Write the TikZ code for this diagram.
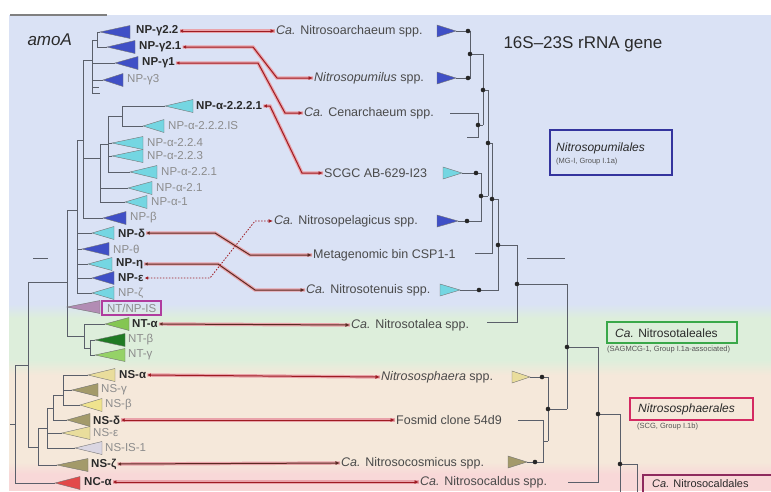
\documentclass[tikz,border=0pt]{standalone}
\usepackage{fontspec}
\setmainfont{Liberation Sans}
\usepackage{xcolor}
\definecolor{bandBlue}{HTML}{DAE2F5}
\definecolor{bandGreen}{HTML}{DDEEDB}
\definecolor{bandSand}{HTML}{F5E8DA}
\definecolor{bandPink}{HTML}{F8D8D8}
\definecolor{darkText}{HTML}{2A2A2A}
\definecolor{dimText}{HTML}{8C8C8C}
\definecolor{treeGray}{HTML}{5A5F6A}
\definecolor{linkRed}{HTML}{9E1B22}
\definecolor{linkPink}{HTML}{E9A3AA}
\definecolor{linkBrown}{HTML}{5C2A22}
\definecolor{npBlue}{HTML}{3F4FC6}
\definecolor{npCyan}{HTML}{74D6E2}
\definecolor{ntnpMauve}{HTML}{B28CB4}
\definecolor{ntGreen}{HTML}{84C652}
\definecolor{ntDark}{HTML}{1F7A24}
\definecolor{ntLight}{HTML}{95D267}
\definecolor{nsSand}{HTML}{E9DD9C}
\definecolor{nsOlive}{HTML}{A39A6A}
\definecolor{nsYellow}{HTML}{EFE38E}
\definecolor{nsisGray}{HTML}{DAD6E2}
\definecolor{ncRed}{HTML}{E2494A}
\definecolor{boxBlue}{HTML}{34349E}
\definecolor{boxGreen}{HTML}{3AA84A}
\definecolor{boxRed}{HTML}{D42A62}
\definecolor{boxPlum}{HTML}{8E2A5E}
\definecolor{boxMauve}{HTML}{B03C9E}
\usepackage{tikz}
\usetikzlibrary{arrows.meta}
\tikzset{
    % Leaf label of the amoA tree
    lab/.style={
        font=\fontsize{11.5}{13}\selectfont\bfseries,
        text=darkText,
        anchor=west,
        inner sep=1pt,
    },
    % Greyed leaf label
    labdim/.style={
        lab,
        font=\fontsize{11.5}{13}\selectfont,
        text=dimText,
    },
    % Leaf label of the rRNA tree
    tiplabel/.style={
        font=\fontsize{12.5}{14}\selectfont,
        text=darkText!85,
        anchor=west,
        inner sep=1pt,
    },
    % Collapsed clade
    clade/.style={
        draw=black!55,
        line width=0.4pt,
    },
    % Tree branches
    branch/.style={
        draw=treeGray,
        line width=0.8pt,
    },
    treedot/.style={
        fill=black!85,
    },
    % Red two-headed link
    linkarrow/.style={
        {Latex[length=3.5pt,width=3.5pt]}-{Latex[length=4.5pt,width=4pt]},
        draw=linkRed,
        line width=1pt,
        preaction={draw=linkPink, line width=3.4pt, arrows=-},
    },
    linkdark/.style={
        linkarrow,
        draw=linkBrown,
    },
    % Dotted link
    linkdotted/.style={
        {Latex[length=3.5pt,width=3.5pt]}-{Latex[length=4.5pt,width=4pt]},
        draw=linkRed,
        line width=0.8pt,
        dash pattern=on 1.5pt off 1.5pt,
    },
    % Order boxes
    groupname/.style={
        font=\fontsize{12}{13}\selectfont,
        text=darkText,
        anchor=west,
        inner sep=0pt,
    },
    groupsub/.style={
        font=\fontsize{7.5}{8}\selectfont,
        text=darkText!80,
        anchor=west,
        inner sep=0pt,
    },
}
% apex x, y, right x, colour
\newcommand{\ltri}[4]{\filldraw[clade, fill=#4] (#1,#2) -- (#3,#2-6.5) -- (#3,#2+6.5) -- cycle;}
% left x, y, apex x, colour
\newcommand{\rtri}[4]{\filldraw[clade, fill=#4] (#1,#2-6) -- (#1,#2+6) -- (#3,#2) -- cycle;}

\begin{document}
\begin{tikzpicture}[x=1pt, y=-1pt]
    \useasboundingbox (0,0) rectangle (771,491);
    \clip (0,0) rectangle (771,491);

    % background bands
    \fill[bandBlue] (9,15) rectangle (771,304);
    \shade[top color=bandBlue, bottom color=bandGreen] (9,304) rectangle (771,318);
    \fill[bandGreen] (9,318) rectangle (771,360);
    \shade[top color=bandGreen, bottom color=bandSand] (9,360) rectangle (771,375);
    \fill[bandSand] (9,375) rectangle (771,462);
    \shade[top color=bandSand, bottom color=bandPink] (9,462) rectangle (771,474);
    \fill[bandPink] (9,474) rectangle (771,491);
    \draw[gray, line width=1.5pt] (10,15) -- (107,15);

    \node (amoa) [anchor=west, font=\fontsize{17}{18}\selectfont\itshape, text=darkText] at (24,40) {amoA};
    \node (rrna) [anchor=west, font=\fontsize{17}{18}\selectfont, text=darkText] at (500,44) {16S--23S rRNA gene};

    % amoA tree
    \draw[branch] (97,32) -- (97,47)  (97,32) -- (100,32)  (97,47) -- (107,47);
    \draw[branch] (92,40) -- (92,93)  (92,40) -- (97,40)  (92,63) -- (115,63)  (92,80) -- (103,80)  (92,87) -- (99,87)  (92,93) -- (100,93);
    \draw[branch] (122,106) -- (122,126)  (122,106) -- (165,106)  (122,126) -- (143,126);
    \draw[branch] (108,116) -- (108,172)  (108,116) -- (122,116)  (108,143) -- (112,143)  (108,156) -- (112,156)  (108,172) -- (130,172);
    \draw[branch] (100,144) -- (100,202)  (100,144) -- (108,144)  (100,188) -- (128,188)  (100,202) -- (125,202);
    \draw[branch] (83,60) -- (83,218)  (83,60) -- (92,60)  (83,158) -- (100,158)  (83,218) -- (103,218);
    \draw[branch] (77,140) -- (77,293)  (77,140) -- (83,140)  (77,233) -- (92,233)  (77,249) -- (82,249)  (77,264) -- (88,264)  (77,278) -- (92,278)  (77,293) -- (92,293);
    \draw[branch] (90,340) -- (90,355)  (90,340) -- (95,340)  (90,355) -- (95,355);
    \draw[branch] (84,324) -- (84,348)  (84,324) -- (105,324)  (84,348) -- (90,348);
    \draw[branch] (67,210) -- (67,336)  (67,210) -- (77,210)  (67,336) -- (84,336);
    \draw[branch] (63,375) -- (63,405)  (63,375) -- (88,375)  (63,390) -- (72,390)  (63,405) -- (80,405);
    \draw[branch] (53,395) -- (53,420)  (53,395) -- (63,395)  (53,420) -- (67,420);
    \draw[branch] (47,408) -- (47,448)  (47,408) -- (53,408)  (47,433) -- (62,433)  (47,448) -- (75,448);
    \draw[branch] (38,428) -- (38,465)  (38,428) -- (47,428)  (38,465) -- (57,465);
    \draw[branch] (28,282) -- (28,447)  (28,282) -- (67,282)  (28,447) -- (38,447);
    \draw[branch] (15,365) -- (15,483)  (15,365) -- (28,365)  (15,483) -- (55,483)  (10,424) -- (15,424);
    \draw[branch] (33,258) -- (48,258);

    \ltri{100}{32}{130}{npBlue}
    \ltri{107}{47}{135}{npBlue}
    \ltri{115}{63}{138}{npBlue}
    \ltri{103}{80}{123}{npBlue}
    \ltri{165}{106}{193}{npCyan}
    \ltri{143}{126}{164}{npCyan}
    \ltri{112}{143}{143}{npCyan}
    \ltri{112}{156}{143}{npCyan}
    \ltri{130}{172}{157}{npCyan}
    \ltri{128}{188}{152}{npCyan}
    \ltri{125}{202}{147}{npCyan}
    \ltri{103}{218}{126}{npBlue}
    \ltri{92}{233}{114}{npCyan}
    \ltri{82}{249}{109}{npBlue}
    \ltri{88}{264}{112}{npCyan}
    \ltri{92}{278}{114}{npBlue}
    \ltri{92}{293}{114}{npCyan}
    \ltri{67}{307}{100}{ntnpMauve}
    \ltri{105}{324}{129}{ntGreen}
    \ltri{95}{340}{125}{ntDark}
    \ltri{95}{355}{125}{ntLight}
    \ltri{88}{375}{115}{nsSand}
    \ltri{72}{390}{98}{nsOlive}
    \ltri{80}{405}{102}{nsYellow}
    \ltri{67}{420}{90}{nsOlive}
    \ltri{62}{433}{90}{nsSand}
    \ltri{75}{448}{102}{nsisGray}
    \ltri{57}{465}{88}{nsOlive}
    \ltri{55}{483}{80}{ncRed}

    \node (g22) [lab] at (135,31) {NP-γ2.2};
    \node (g21) [lab] at (138,47) {NP-γ2.1};
    \node (g1) [lab] at (141,63) {NP-γ1};
    \node (g3) [labdim] at (126,80) {NP-γ3};
    \node (a2221) [lab] at (195,106) {NP-α-2.2.2.1};
    \node (a222is) [labdim] at (167,126) {NP-α-2.2.2.IS};
    \node (a224) [labdim] at (146,143) {NP-α-2.2.4};
    \node (a223) [labdim] at (146,156) {NP-α-2.2.3};
    \node (a221) [labdim] at (160,172) {NP-α-2.2.1};
    \node (a21) [labdim] at (155,188) {NP-α-2.1};
    \node (a1) [labdim] at (150,202) {NP-α-1};
    \node (npb) [labdim] at (129,218) {NP-β};
    \node (npd) [lab] at (117,233) {NP-δ};
    \node (npt) [labdim] at (112,249) {NP-θ};
    \node (npeta) [lab] at (115,264) {NP-η};
    \node (npeps) [lab] at (117,278) {NP-ε};
    \node (npz) [labdim] at (117,293) {NP-ζ};
    \node (ntnp) [labdim, draw=boxMauve, line width=2pt, inner xsep=5pt, inner ysep=3pt] at (101,308) {NT/NP-IS};
    \node (nta) [lab] at (131,324) {NT-α};
    \node (ntb) [labdim] at (127,340) {NT-β};
    \node (ntg) [labdim] at (127,355) {NT-γ};
    \node (nsa) [lab] at (118,375) {NS-α};
    \node (nsg) [labdim] at (100,390) {NS-γ};
    \node (nsb) [labdim] at (104,405) {NS-β};
    \node (nsd) [lab] at (92,420) {NS-δ};
    \node (nse) [labdim] at (92,433) {NS-ε};
    \node (nsis) [labdim] at (104,448) {NS-IS-1};
    \node (nsz) [lab] at (90,464) {NS-ζ};
    \node (nca) [lab] at (83,482) {NC-α};

    % 16S-23S rRNA gene tree
    \rtri{437}{31}{456}{npBlue}
    \rtri{437}{78}{456}{npBlue}
    \rtri{443}{173}{462}{npCyan}
    \rtri{437}{221}{458}{npBlue}
    \rtri{440}{290}{460}{npCyan}
    \rtri{512}{377}{530}{nsSand}
    \rtri{508}{462}{527}{nsOlive}
    \draw[branch] (456,31) -- (470,31) -- (470,78) -- (456,78)  (470,54) -- (483,54);
    \draw[branch] (450,113) -- (478,113) -- (478,137) -- (467,137)  (478,125) -- (483,125);
    \draw[branch] (483,54) -- (483,125)  (483,90) -- (488,90);
    \draw[branch] (462,173) -- (481,173) -- (481,221) -- (458,221)  (481,196) -- (488,196);
    \draw[branch] (488,90) -- (488,196)  (488,143) -- (492,143);
    \draw[branch] (492,143) -- (492,253) -- (475,253)  (492,199) -- (498,199);
    \draw[branch] (498,199) -- (498,290) -- (460,290)  (498,245) -- (517,245);
    \draw[branch] (517,245) -- (517,322) -- (487,322)  (517,284) -- (567,284);
    \draw[branch] (530,377) -- (548,377) -- (548,441)  (518,420) -- (543,420) -- (543,462) -- (527,462)  (543,441) -- (548,441)  (548,409) -- (567,409);
    \draw[branch] (567,284) -- (567,409)  (567,347) -- (598,347);
    \draw[branch] (598,347) -- (598,482) -- (568,482)  (598,414) -- (620,414);
    \draw[branch] (620,414) -- (620,495)  (620,464) -- (637,464) -- (637,495);
    \draw[branch] (527,258) -- (565,258);
    \foreach \x/\y in {468/31, 470/54, 468/78, 478/125, 483/90, 476/173, 481/196, 467/221, 488/143, 492/199, 479/290, 498/245, 517/284, 567/347, 542/377, 548/409, 535/462, 598/414, 620/464}
        \fill[treedot] (\x,\y) circle (2.3pt);

    \node (arch) [tiplabel] at (275,31) {\textit{Ca.} Nitrosoarchaeum spp.};
    \node (pumi) [tiplabel] at (313,78) {\textit{Nitrosopumilus} spp.};
    \node (cena) [tiplabel] at (303,113) {\textit{Ca.} Cenarchaeum spp.};
    \node (scgc) [tiplabel] at (323,173) {SCGC AB-629-I23};
    \node (pela) [tiplabel] at (273,221) {\textit{Ca.} Nitrosopelagicus spp.};
    \node (csp) [tiplabel] at (312,255) {Metagenomic bin CSP1-1};
    \node (tenu) [tiplabel] at (305,290) {\textit{Ca.} Nitrosotenuis spp.};
    \node (tale) [tiplabel] at (350,325) {\textit{Ca.} Nitrosotalea spp.};
    \node (sphae) [tiplabel] at (380,377) {\textit{Nitrososphaera} spp.};
    \node (fosm) [tiplabel] at (395,420) {Fosmid clone 54d9};
    \node (cosm) [tiplabel] at (340,463) {\textit{Ca.} Nitrosocosmicus spp.};
    \node (cald) [tiplabel] at (419,482) {\textit{Ca.} Nitrosocaldus spp.};

    % links between the two trees
    \draw[linkarrow] (g22.east) -- (arch.west);
    \draw[linkarrow] (g21.east) -- (253,47) -- (277,78) -- (pumi.west);
    \draw[linkarrow] (g1.east) -- (258,63) -- (285,113) -- (cena.west);
    \draw[linkarrow] (a2221.east) -- (270,106) -- (302,173) -- (scgc.west);
    \draw[linkdark] (npd.east) -- (215,233) -- (250,255) -- (csp.west);
    \draw[linkdark] (npeta.east) -- (218,264) -- (255,290) -- (tenu.west);
    \draw[linkdotted] (npeps.east) -- (210,278) -- (255,221) -- (pela.west);
    \draw[linkdark] (nta.east) -- (tale.west);
    \draw[linkarrow] (nsa.east) -- (sphae.west);
    \draw[linkarrow] (nsd.east) -- (fosm.west);
    \draw[linkdark] (nsz.east) -- (cosm.west);
    \draw[linkarrow] (nca.east) -- (cald.west);

    % order boxes
    \draw[boxBlue, line width=2pt] (550,130) rectangle (672,175);
    \node (pumiName) [groupname] at (556,148) {\textit{Nitrosopumilales}};
    \node (pumiSub) [groupsub] at (556,162) {(MG-I, Group I.1a)};
    \draw[boxGreen, line width=2pt] (607,322) rectangle (737,343);
    \node (taleName) [groupname] at (615,333) {\textit{Ca.} Nitrosotaleales};
    \node (taleSub) [groupsub] at (607,350) {(SAGMCG-1, Group I.1a-associated)};
    \draw[boxRed, line width=2pt] (630,398) rectangle (753,420);
    \node (sphaeName) [groupname] at (638,409) {\textit{Nitrososphaerales}};
    \node (sphaeSub) [groupsub] at (637,427) {(SCG, Group I.1b)};
    \draw[boxPlum, line width=2pt] (643,475) rectangle (790,505);
    \node (caldName) [groupname, font=\fontsize{11}{12}\selectfont] at (652,484) {\textit{Ca.} Nitrosocaldales};
\end{tikzpicture}
\end{document}
